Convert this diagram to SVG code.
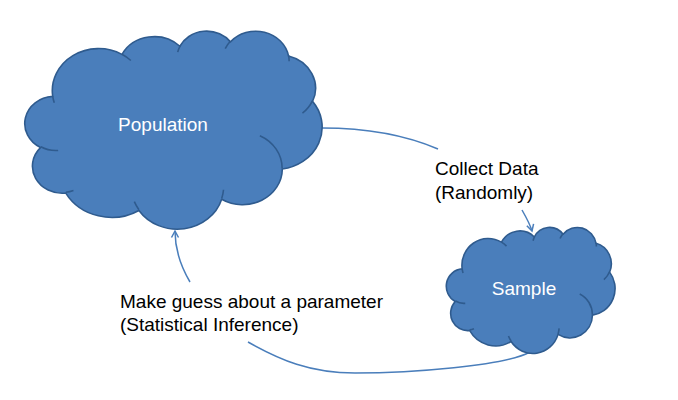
<svg xmlns="http://www.w3.org/2000/svg" xmlns:xlink="http://www.w3.org/1999/xlink" width="678" height="400" viewBox="0 0 678 400">
<style>
.cloud{fill:#4A7EBB;stroke:#2F5B8E;stroke-width:1.6;vector-effect:non-scaling-stroke;stroke-linejoin:round}
.crease{fill:none;stroke:#2F5B8E;stroke-width:1.6;vector-effect:non-scaling-stroke}
.lbl{font-family:"Liberation Sans",Arial,sans-serif;font-size:19px;fill:#000}
.in{fill:#fff;text-anchor:middle}
.conn{fill:none;stroke:#4A7EBB;stroke-width:1.5}
</style>
<defs>
<marker id="arr" markerUnits="userSpaceOnUse" markerWidth="10" markerHeight="10" refX="7" refY="4" orient="auto" overflow="visible">
<path d="M0.5,0.5 L7,4 L0.5,7.5" fill="none" stroke="#4A7EBB" stroke-width="1.5"/>
</marker>
<g id="cloudshape">
<path class="cloud" d="M3900,14370 A6753,9190 0 0,1 14006,5203 A5333,7267 0 0,1 22459,3435 A4365,5945 0 0,1 29836,2484 A4857,6595 0 0,1 38321,5581 A5333,7273 0 0,1 41821,15465 A6775,9220 0 0,1 37407,30206 A5785,7867 0 0,1 28558,36817 A6752,9215 0 0,1 16482,39267 A7720,10543 0 0,1 5805,35470 A4360,5918 0 0,1 2116,25546 A4345,5945 0 0,1 3900,14370 Z"/>
<path class="crease" d="M4693,26177 A4345,5945 0 0,1 2160,25380 M6928,34899 A4360,5918 0 0,1 5819,35281 M16478,39090 A6752,9215 0 0,1 15811,37350 M28827,34751 A6752,9215 0 0,1 28561,36660 M34129,22954 A5785,7867 0 0,1 37380,30090 M41798,15354 A5333,7273 0 0,1 40351,18029 M38324,5426 A4857,6595 0 0,1 38400,6690 M29078,3952 A4857,6595 0 0,1 29821,2338 M22141,4720 A4365,5945 0 0,1 22500,3330 M14000,5192 A6753,9190 0 0,1 15301,6543 M4127,15789 A6753,9190 0 0,1 3900,14370"/>
</g>
</defs>
<g id="connectors">
<path class="conn" d="M322,128 C370,128 410,137 438,149"/>
<path class="conn" marker-end="url(#arr)" d="M522,210 C526,217 530,224 532,231"/>
<path class="conn" d="M530,352 C505,366 410,373 355,373 C310,373 280,360 248,342"/>
<path class="conn" marker-end="url(#arr)" d="M190,282 C180,265 175,250 175,231"/>
</g>
<g id="population">
<use xlink:href="#cloudshape" transform="translate(26,30.5) scale(0.0068519,0.0045833)"/>
<text class="lbl in" x="163" y="131">Population</text>
</g>
<g id="sample">
<use xlink:href="#cloudshape" transform="translate(447,227) scale(0.0038889,0.0029167)"/>
<text class="lbl in" x="524" y="295">Sample</text>
</g>
<g id="label-collect">
<text class="lbl" x="435" y="175">Collect Data</text>
<text class="lbl" x="435" y="199">(Randomly)</text>
</g>
<g id="label-inference">
<text class="lbl" x="120" y="308">Make guess about a parameter</text>
<text class="lbl" x="120" y="331">(Statistical Inference)</text>
</g>
</svg>
